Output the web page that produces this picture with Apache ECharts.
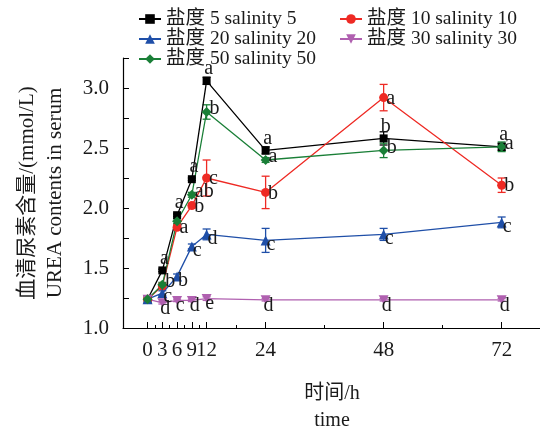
<!DOCTYPE html>
<html>
<head>
<meta charset="utf-8">
<script src="https://cdn.jsdelivr.net/npm/echarts@6/dist/echarts.min.js"></script>
<style>html,body{margin:0;padding:0;background:#fff}#c{width:540px;height:428px}</style>
</head>
<body>
<div id="c"></div>
<script>
var hours = [0, 3, 6, 9, 12, 24, 48, 72];
var xLabelValues = [0, 3, 6, 9, 12, 24, 48, 72];
var xMinorTickValues = [1.5, 4.5, 7.5, 10.5, 18, 36, 60];
var yLabelValues = [1.0, 1.5, 2.0, 2.5, 3.0];
var yTickValues = [1.0, 1.25, 1.5, 1.75, 2.0, 2.25, 2.5, 2.75, 3.0, 3.25];

var seriesNames = ['盐度 5 salinity 5', '盐度 10 salinity 10', '盐度 20 salinity 20', '盐度 30 salinity 30', '盐度 50 salinity 50'];

var sal5 = [1.24, 1.48, 1.94, 2.24, 3.06, 2.48, 2.58, 2.51];
var sal10 = [1.24, 1.35, 1.84, 2.02, 2.25, 2.13, 2.92, 2.19];
var sal20 = [1.24, 1.29, 1.43, 1.68, 1.78, 1.73, 1.78, 1.88];
var sal30 = [1.24, 1.21, 1.23, 1.23, 1.245, 1.235, 1.235, 1.235];
var sal50 = [1.24, 1.36, 1.89, 2.11, 2.80, 2.40, 2.48, 2.51];

var err5 = [0, 0.01, 0.01, 0.01, 0.03, 0.03, 0.055, 0.03];
var err10 = [0, 0.02, 0.02, 0.02, 0.15, 0.135, 0.11, 0.06];
var err20 = [0, 0.02, 0.02, 0.02, 0.045, 0.10, 0.05, 0.045];
var err30 = [0, 0.01, 0.01, 0.01, 0.015, 0.01, 0.01, 0.01];
var err50 = [0, 0.02, 0.02, 0.02, 0.06, 0.02, 0.06, 0.04];

var let5 = ['', 'a', 'a', 'a', 'a', 'a', 'b', 'a'];
var let10 = ['', '', 'a', 'b', 'c', 'b', 'a', 'b'];
var let20 = ['', 'c', 'b', 'c', 'd', 'c', 'c', 'c'];
var let30 = ['', 'd', 'c', 'd', 'e', 'd', 'd', 'd'];
var let50 = ['', 'b', '', 'ab', 'b', 'a', 'b', 'a'];

var colors = ['#000000', '#ee2a24', '#1f4fa8', '#b060b0', '#1a7f37'];
var symbols = ['rect', 'circle', 'triangle', 'path://M0,0 L10,0 L5,9 Z', 'diamond'];
var symSizes = [8, 9, 10, [10, 9], 10];
var values = [sal5, sal10, sal20, sal30, sal50];
var errs = [err5, err10, err20, err30, err50];
var letters = [let5, let10, let20, let30, let50];
var labelStyles = [
  {position: 'top', distance: -2, offset: [2, 0]},
  {position: 'right', distance: -2, offset: [0, 1]},
  {position: 'right', distance: -4, offset: [0, 4]},
  {position: 'bottom', distance: -9, offset: [3, 0]},
  {position: 'right', distance: -2, offset: [0, -3]}
];

var serif = '"Liberation Serif", "Times New Roman", "Noto Sans CJK SC", serif';

var series = [];
values.forEach(function (vals, si) {
  series.push({
    type: 'custom',
    name: seriesNames[si] + '_err',
    xAxisIndex: 0, yAxisIndex: 0,
    silent: true,
    z: 3,
    data: hours.map(function (h, i) { return [h, vals[i], errs[si][i]]; }),
    renderItem: function (params, api) {
      var x = api.value(0), y = api.value(1), e = api.value(2);
      if (!e) return null;
      var top = api.coord([x, y + e]);
      var bot = api.coord([x, y - e]);
      var hw = 4;
      var st = {stroke: colors[si], lineWidth: 1.3};
      return {
        type: 'group',
        children: [
          {type: 'line', shape: {x1: top[0], y1: top[1], x2: bot[0], y2: bot[1]}, style: st},
          {type: 'line', shape: {x1: top[0] - hw, y1: top[1], x2: top[0] + hw, y2: top[1]}, style: st},
          {type: 'line', shape: {x1: bot[0] - hw, y1: bot[1], x2: bot[0] + hw, y2: bot[1]}, style: st}
        ]
      };
    }
  });
  series.push({
    type: 'line',
    name: seriesNames[si],
    xAxisIndex: 0, yAxisIndex: 0,
    z: 4,
    symbol: symbols[si],
    symbolSize: symSizes[si],
    color: colors[si],
    lineStyle: {width: 1.3, color: colors[si]},
    itemStyle: {color: colors[si]},
    data: hours.map(function (h, i) {
      return {
        value: [h, vals[i]],
        label: {
          show: letters[si][i] !== '',
          formatter: letters[si][i],
          position: labelStyles[si].position,
          distance: labelStyles[si].distance,
          offset: labelStyles[si].offset,
          fontFamily: serif,
          fontSize: 20,
          color: '#1a1a1a'
        }
      };
    }),
    animation: false
  });
});

var legendText = {fontFamily: serif, fontSize: 19.5, color: '#1a1a1a', lineHeight: 20};

var option = {
  animation: false,
  backgroundColor: '#ffffff',
  grid: {left: 123, top: 58, width: 418, height: 270, containLabel: false, outerBoundsMode: 'none'},
  legend: [
    {
      orient: 'vertical', left: 133, top: 4,
      itemWidth: 22, itemHeight: 12, itemGap: 0,
      textStyle: legendText,
      data: [seriesNames[0], seriesNames[2], seriesNames[4]]
    },
    {
      orient: 'vertical', left: 334, top: 4,
      itemWidth: 22, itemHeight: 12, itemGap: 0,
      textStyle: legendText,
      data: [seriesNames[1], seriesNames[3]]
    }
  ],
  xAxis: [
    {
      type: 'value', min: -5, max: 80,
      axisLine: {show: true, onZero: false, lineStyle: {color: '#000', width: 1.2}},
      axisTick: {show: true, inside: true, length: 6, customValues: xLabelValues, lineStyle: {color: '#000'}},
      axisLabel: {customValues: xLabelValues, fontFamily: serif, fontSize: 21, color: '#1a1a1a', margin: 12},
      splitLine: {show: false},
      name: '时间/h\ntime',
      nameLocation: 'middle',
      nameGap: 52,
      nameTextStyle: {fontFamily: serif, fontSize: 20, color: '#1a1a1a', lineHeight: 27, verticalAlign: 'top'}
    },
    {
      type: 'value', min: -5, max: 80, position: 'bottom',
      axisLine: {show: false, onZero: false},
      axisTick: {show: true, inside: true, length: 3, customValues: xMinorTickValues, lineStyle: {color: '#000'}},
      axisLabel: {show: false},
      splitLine: {show: false}
    }
  ],
  yAxis: [
    {
      type: 'value', min: 1.0, max: 3.25,
      axisLine: {show: true, onZero: false, lineStyle: {color: '#000', width: 1.2}},
      axisTick: {show: true, inside: true, length: 6, customValues: yTickValues, lineStyle: {color: '#000'}},
      axisLabel: {customValues: yLabelValues, fontFamily: serif, fontSize: 21, color: '#1a1a1a', margin: 14,
        formatter: function (v) { return v.toFixed(1); }},
      splitLine: {show: false},
      name: '血清尿素含量/(mmol/L)\nUREA contents in serum',
      nameLocation: 'middle',
      nameRotate: 90,
      nameGap: 54,
      nameTextStyle: {fontFamily: serif, fontSize: 21, color: '#1a1a1a', lineHeight: 28}
    }
  ],
  series: series
};

var chart = echarts.init(document.getElementById('c'), null, {renderer: 'canvas'});
chart.setOption(option);
</script>
</body>
</html>
